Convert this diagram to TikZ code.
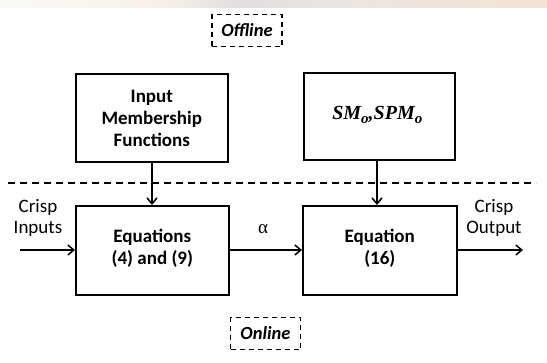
\documentclass[tikz,border=0pt]{standalone}
\usepackage{fontspec}
\setmainfont{Carlito}
\newfontfamily\symserif{Liberation Serif}
\usetikzlibrary{arrows.meta}
\begin{document}
\begin{tikzpicture}[x=1pt,y=-1pt,
  block/.style={draw=black,line width=1.6pt,fill=white,inner sep=0pt,anchor=north west},
  btext/.style={font=\bfseries\fontsize{19}{22}\selectfont,align=center},
  ltext/.style={font=\fontsize{19}{21}\selectfont,align=center},
  tag/.style={draw=black,line width=1.3pt,dash pattern=on 5pt off 4pt,font=\bfseries\itshape\fontsize{18.5}{18}\selectfont,inner sep=0pt,minimum width=70pt,minimum height=32pt},
  flow/.style={line width=1.5pt,-{Straight Barb[length=6pt,width=10pt,line width=1.5pt]}}]
\useasboundingbox (0,0) rectangle (547,362);
% faint band along the top edge
\shade[left color={rgb,255:red,252;green,250;blue,246},right color={rgb,255:red,246;green,240;blue,232}] (0,0) rectangle (165,7);
\shade[left color={rgb,255:red,246;green,240;blue,232},right color={rgb,255:red,226;green,222;blue,222}] (165,0) rectangle (240,7);
\shade[left color={rgb,255:red,226;green,222;blue,222},right color={rgb,255:red,236;green,230;blue,226}] (240,0) rectangle (340,7);
\shade[left color={rgb,255:red,236;green,230;blue,226},right color={rgb,255:red,244;green,228;blue,214}] (340,0) rectangle (547,7);

% mode tags
\node[tag] (offline) at (247,30.5) {Offline};
\node[tag] (online) at (265.5,333.5) {Online};

% offline / online divider
\coordinate (divL) at (8,183);
\coordinate (divR) at (536,183);
\draw[line width=1.3pt,dash pattern=on 7pt off 5pt] (divL) -- (divR);

% blocks
\node[block,minimum width=152pt,minimum height=88pt] (imf) at (75,73) {};
\node[btext] (imftxt) at ([yshift=-1pt]imf.center) {Input\\Membership\\Functions};
\node[block,minimum width=151pt,minimum height=87pt] (sm) at (303,72) {};
\node[font=\symserif\bfseries\itshape\fontsize{20}{20}\selectfont] (smtxt) at ([xshift=-2pt,yshift=1pt]sm.center)
  {SM\raisebox{-4pt}{\fontsize{15}{15}\selectfont o},SPM\raisebox{-4pt}{\fontsize{15}{15}\selectfont o}};
\node[block,minimum width=153pt,minimum height=89pt] (eq1) at (75,205) {};
\node[btext] (eq1txt) at ([yshift=2pt]eq1.center) {Equations\\(4) and (9)};
\node[block,minimum width=154pt,minimum height=89pt] (eq2) at (302,205) {};
\node[btext] (eq2txt) at ([yshift=2pt]eq2.center) {Equation\\(16)};

% inputs / outputs
\coordinate (inL) at (20,250);
\coordinate (outR) at (523,250);
\node[ltext] (cin) at (38,218) {Crisp\\Inputs};
\node[ltext] (cout) at (494,218) {Crisp\\Output};
\node[font=\symserif\fontsize{19}{20}\selectfont] (alpha) at (263,229) {α};

% connectors
\draw[flow] (inL) -- (inL -| eq1.west);
\draw[flow] (eq1.east |- inL) -- (eq2.west |- inL);
\draw[flow] (eq2.east |- inL) -- (outR);
\draw[flow] (152,0 |- imf.south) -- (152,0 |- eq1.north);
\draw[flow] (377,0 |- sm.south) -- (377,0 |- eq2.north);
\end{tikzpicture}
\end{document}
